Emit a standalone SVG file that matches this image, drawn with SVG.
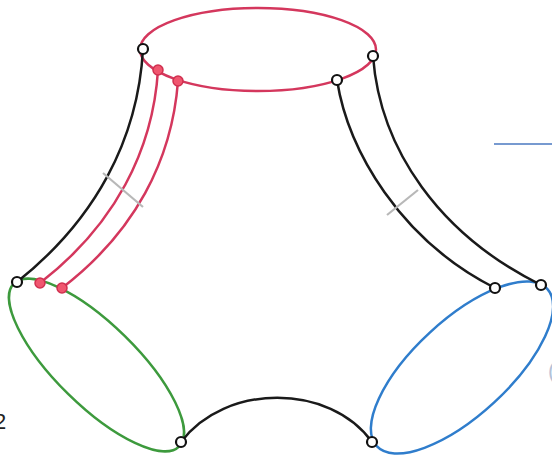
<svg xmlns="http://www.w3.org/2000/svg" width="552" height="457" viewBox="0 0 552 457">
<style>
.red{fill:none;stroke:#d4375d;stroke-width:2.5}
.green{fill:none;stroke:#3d9a3d;stroke-width:2.5}
.blue{fill:none;stroke:#2f7dcc;stroke-width:2.5}
.blk{fill:none;stroke:#1a1a1a;stroke-width:2.5}
.tick{fill:none;stroke:#b8b8b8;stroke-width:2.2}
.node{fill:#ffffff;stroke:#111111;stroke-width:2.2}
.rdot{fill:#f0566f;stroke:#d0304f;stroke-width:1.5}
.lbl{font-family:"Liberation Sans",Arial,sans-serif;font-size:22px;fill:#222222}
</style>
<rect width="552" height="457" fill="#ffffff"/>
<g id="loops">
<ellipse id="loop-red" class="red" cx="258" cy="49.5" rx="118" ry="41.5"/>
<ellipse id="loop-green" class="green" cx="96.5" cy="365" rx="116" ry="40.5" transform="rotate(44.5 96.5 365)"/>
<ellipse id="loop-blue" class="blue" cx="462" cy="367.5" rx="116" ry="47.5" transform="rotate(-42.7 462 367.5)"/>
</g>
<g id="connectors">
<path class="blk" d="M143,49 C138,140 95,220 17,282"/>
<path class="red" d="M158,70 C153,150 115,225 40,283"/>
<path class="red" d="M178,81 C172,160 135,232 62,288"/>
<path class="blk" d="M337,80 C348,150 400,240 495,288"/>
<path class="blk" d="M373,56 C380,150 440,235 541,285"/>
<path class="blk" d="M181,442 C225,383 330,383 372,442"/>
<line class="tick" x1="103" y1="173" x2="143" y2="207"/>
<line class="tick" x1="387" y1="215" x2="418" y2="190"/>
<line x1="494" y1="144" x2="552" y2="144" stroke="#4a78c0" stroke-width="1.5"/>
</g>
<g id="n1"><circle class="node" cx="143" cy="49" r="5"/></g>
<g id="n2"><circle class="node" cx="373" cy="56" r="5"/></g>
<g id="n3"><circle class="node" cx="337" cy="80" r="5"/></g>
<g id="n4"><circle class="node" cx="17" cy="282" r="5"/></g>
<g id="n5"><circle class="node" cx="181" cy="442" r="5"/></g>
<g id="n6"><circle class="node" cx="372" cy="442" r="5"/></g>
<g id="n7"><circle class="node" cx="495" cy="288" r="5"/></g>
<g id="n8"><circle class="node" cx="541" cy="285" r="5"/></g>
<g id="r1"><circle class="rdot" cx="158" cy="70" r="5"/></g>
<g id="r2"><circle class="rdot" cx="178" cy="81" r="5"/></g>
<g id="r3"><circle class="rdot" cx="40" cy="283" r="5"/></g>
<g id="r4"><circle class="rdot" cx="62" cy="288" r="5"/></g>
<g id="labels">
<text class="lbl" x="-6" y="429">2</text>
<text class="lbl" x="548" y="378" style="fill:#b4c2d8">(</text>
</g>
</svg>
